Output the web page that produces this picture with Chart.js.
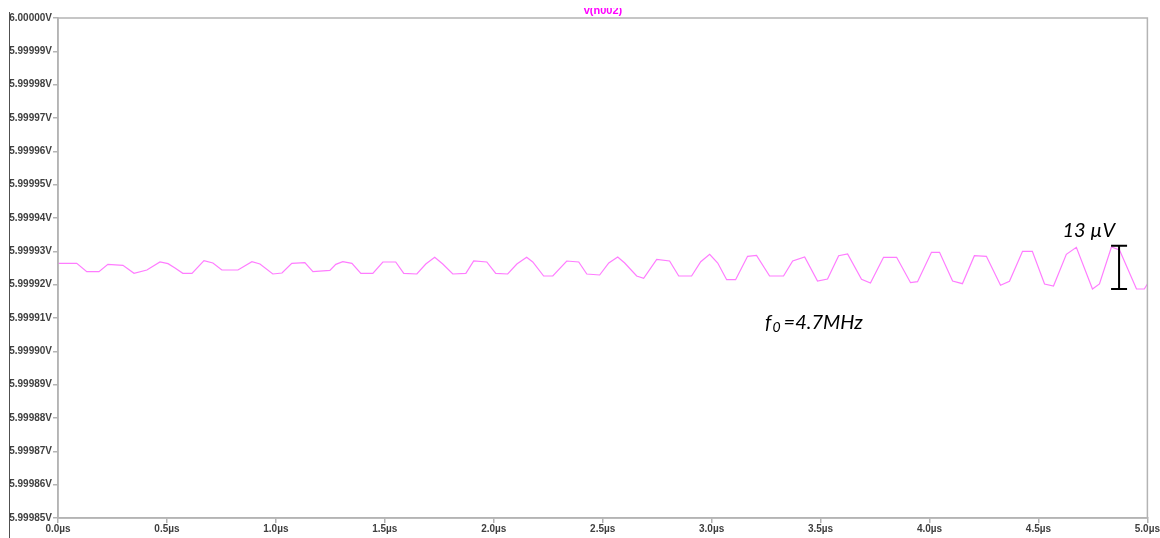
<!DOCTYPE html>
<html>
<head>
<meta charset="utf-8">
<script src="https://cdn.jsdelivr.net/npm/chart.js@4"></script>
<style>
  html, body { margin: 0; padding: 0; background: #fff; }
  #wrap { width: 1160px; height: 538px; }
</style>
</head>
<body>
<div id="wrap"><canvas id="waveChart" width="1160" height="538"></canvas></div>
<script>
// time in µs, voltage in V
const timeUs = [
  0, 0.086, 0.132, 0.188, 0.229, 0.298, 0.349, 0.408, 0.468, 0.505,
  0.537, 0.573, 0.615, 0.670, 0.711, 0.752, 0.826, 0.890, 0.927, 0.986,
  1.028, 1.073, 1.133, 1.170, 1.248, 1.275, 1.307, 1.349, 1.390, 1.445,
  1.491, 1.550, 1.587, 1.647, 1.688, 1.729, 1.766, 1.812, 1.872, 1.908,
  1.968, 2.009, 2.064, 2.106, 2.151, 2.179, 2.229, 2.271, 2.335, 2.390,
  2.427, 2.486, 2.528, 2.569, 2.601, 2.656, 2.688, 2.748, 2.807, 2.849,
  2.908, 2.950, 2.991, 3.028, 3.069, 3.110, 3.165, 3.206, 3.266, 3.330,
  3.372, 3.427, 3.486, 3.532, 3.583, 3.624, 3.688, 3.729, 3.789, 3.849,
  3.913, 3.945, 4.009, 4.046, 4.106, 4.151, 4.206, 4.261, 4.326, 4.367,
  4.427, 4.472, 4.528, 4.569, 4.628, 4.674, 4.748, 4.780, 4.835, 4.872,
  4.950, 4.986, 5.0
];
const vN002 = [
  5.9999264, 5.9999264, 5.9999239, 5.9999239, 5.9999261, 5.9999258, 5.9999234, 5.9999244, 5.9999268, 5.9999263,
  5.9999250, 5.9999234, 5.9999234, 5.9999272, 5.9999265, 5.9999244, 5.9999244, 5.9999269, 5.9999262, 5.9999232,
  5.9999235, 5.9999264, 5.9999266, 5.9999239, 5.9999243, 5.9999261, 5.9999269, 5.9999264, 5.9999234, 5.9999234,
  5.9999268, 5.9999268, 5.9999234, 5.9999232, 5.9999262, 5.9999282, 5.9999262, 5.9999232, 5.9999234, 5.9999271,
  5.9999268, 5.9999234, 5.9999232, 5.9999262, 5.9999282, 5.9999268, 5.9999226, 5.9999226, 5.9999271, 5.9999268,
  5.9999232, 5.9999229, 5.9999265, 5.9999283, 5.9999265, 5.9999226, 5.9999219, 5.9999276, 5.9999271, 5.9999226,
  5.9999226, 5.9999269, 5.9999291, 5.9999265, 5.9999215, 5.9999215, 5.9999285, 5.9999288, 5.9999226, 5.9999226,
  5.9999271, 5.9999283, 5.9999211, 5.9999217, 5.9999287, 5.9999292, 5.9999216, 5.9999205, 5.9999282, 5.9999282,
  5.9999206, 5.9999209, 5.9999297, 5.9999297, 5.9999211, 5.9999203, 5.9999287, 5.9999285, 5.9999198, 5.9999210,
  5.9999300, 5.9999300, 5.9999202, 5.9999196, 5.9999291, 5.9999312, 5.9999187, 5.9999202, 5.9999313, 5.9999304,
  5.9999187, 5.9999187, 5.9999202
];

const xTicks = [0, 0.5, 1.0, 1.5, 2.0, 2.5, 3.0, 3.5, 4.0, 4.5, 5.0];
const yTicks = [5.99985, 5.99986, 5.99987, 5.99988, 5.99989, 5.99990, 5.99991, 5.99992,
                5.99993, 5.99994, 5.99995, 5.99996, 5.99997, 5.99998, 5.99999, 6.00000];

const traceName = "V(n002)";
// amplitude marker and labels
const ampBar = { t: 4.87, low: 5.9999187, high: 5.9999317 };
const ampLabel = { t: 4.61, v: 5.9999362, text: "13 \u00b5V" };
const freqLabel = { t: 3.245, v: 5.9999086 };

const points = timeUs.map((t, i) => ({ x: t, y: vN002[i] }));

const tickFont = { family: "Liberation Sans, Arial, sans-serif", size: 10, weight: "bold" };

const decor = {
  id: "decor",
  afterDraw(chart) {
    const ctx = chart.ctx;
    const a = chart.chartArea;
    const xs = chart.scales.x, ys = chart.scales.y;
    ctx.save();
    // plot frame
    ctx.strokeStyle = "#b4b4b4";
    ctx.lineWidth = 1.5;
    ctx.strokeRect(a.left, a.top, a.right - a.left, a.bottom - a.top);
    // window edge on the left
    ctx.strokeStyle = "#505050";
    ctx.lineWidth = 1;
    ctx.beginPath();
    ctx.moveTo(9.5, 12);
    ctx.lineTo(9.5, 538);
    ctx.stroke();
    // trace name, top half cut off like the screenshot
    ctx.save();
    ctx.beginPath();
    ctx.rect(0, 8, chart.width, 10);
    ctx.clip();
    ctx.fillStyle = "#ff00ff";
    ctx.font = "bold 11px Liberation Sans, Arial, sans-serif";
    ctx.textAlign = "center";
    ctx.textBaseline = "alphabetic";
    ctx.fillText(traceName.toLowerCase(), 603, 14);
    ctx.restore();

    // amplitude bar
    const bx = xs.getPixelForValue(ampBar.t);
    const by1 = ys.getPixelForValue(ampBar.high);
    const by2 = ys.getPixelForValue(ampBar.low);
    ctx.strokeStyle = "#000";
    ctx.lineWidth = 2;
    ctx.beginPath();
    ctx.moveTo(bx, by1); ctx.lineTo(bx, by2);
    ctx.moveTo(bx - 8, by1); ctx.lineTo(bx + 8, by1);
    ctx.moveTo(bx - 8, by2); ctx.lineTo(bx + 8, by2);
    ctx.stroke();

    ctx.fillStyle = "#000";
    ctx.textAlign = "left";
    ctx.textBaseline = "middle";
    ctx.font = "italic 20px Lato, sans-serif";
    ctx.fillText(ampLabel.text, xs.getPixelForValue(ampLabel.t), ys.getPixelForValue(ampLabel.v));

    // f0 label with subscript
    let fx = xs.getPixelForValue(freqLabel.t);
    const fy = ys.getPixelForValue(freqLabel.v);
    ctx.fillText("f", fx, fy);
    fx += ctx.measureText("f").width + 1;
    ctx.font = "italic 14px Lato, sans-serif";
    ctx.fillText("0", fx, fy + 5);
    fx += ctx.measureText("0").width + 3;
    ctx.font = "italic 20px Lato, sans-serif";
    ctx.fillText("=4.7MHz", fx, fy);
    ctx.restore();
  }
};

new Chart(document.getElementById("waveChart"), {
  type: "line",
  data: {
    datasets: [{
      label: traceName,
      data: points,
      borderColor: "#ff7cff",
      borderWidth: 1.2,
      pointRadius: 0,
      tension: 0,
      fill: false
    }]
  },
  options: {
    responsive: false,
    animation: false,
    layout: { padding: { left: 0, top: 18, right: 12, bottom: 0 } },
    plugins: {
      legend: { display: false },
      tooltip: { enabled: false }
    },
    scales: {
      x: {
        type: "linear",
        min: 0,
        max: 5,
        afterBuildTicks: s => { s.ticks = xTicks.map(v => ({ value: v })); },
        afterFit: s => { s.height = 20; },
        grid: { drawOnChartArea: false, drawTicks: true, tickLength: 5, color: "#b4b4b4", lineWidth: 1.5 },
        border: { display: true, color: "#b4b4b4", width: 1.5 },
        ticks: {
          color: "#404040",
          font: tickFont,
          padding: 0,
          maxRotation: 0,
          autoSkip: false,
          callback: v => v.toFixed(1) + "\u00b5s"
        }
      },
      y: {
        type: "linear",
        min: 5.99985,
        max: 6.0,
        afterBuildTicks: s => { s.ticks = yTicks.map(v => ({ value: v })); },
        afterFit: s => { s.width = 58; },
        grid: { drawOnChartArea: false, drawTicks: true, tickLength: 5, color: "#b4b4b4", lineWidth: 1.5 },
        border: { display: true, color: "#b4b4b4", width: 1.5 },
        ticks: {
          color: "#404040",
          font: tickFont,
          padding: 1,
          autoSkip: false,
          callback: v => v.toFixed(5) + "V"
        }
      }
    }
  },
  plugins: [decor]
});
</script>
</body>
</html>
